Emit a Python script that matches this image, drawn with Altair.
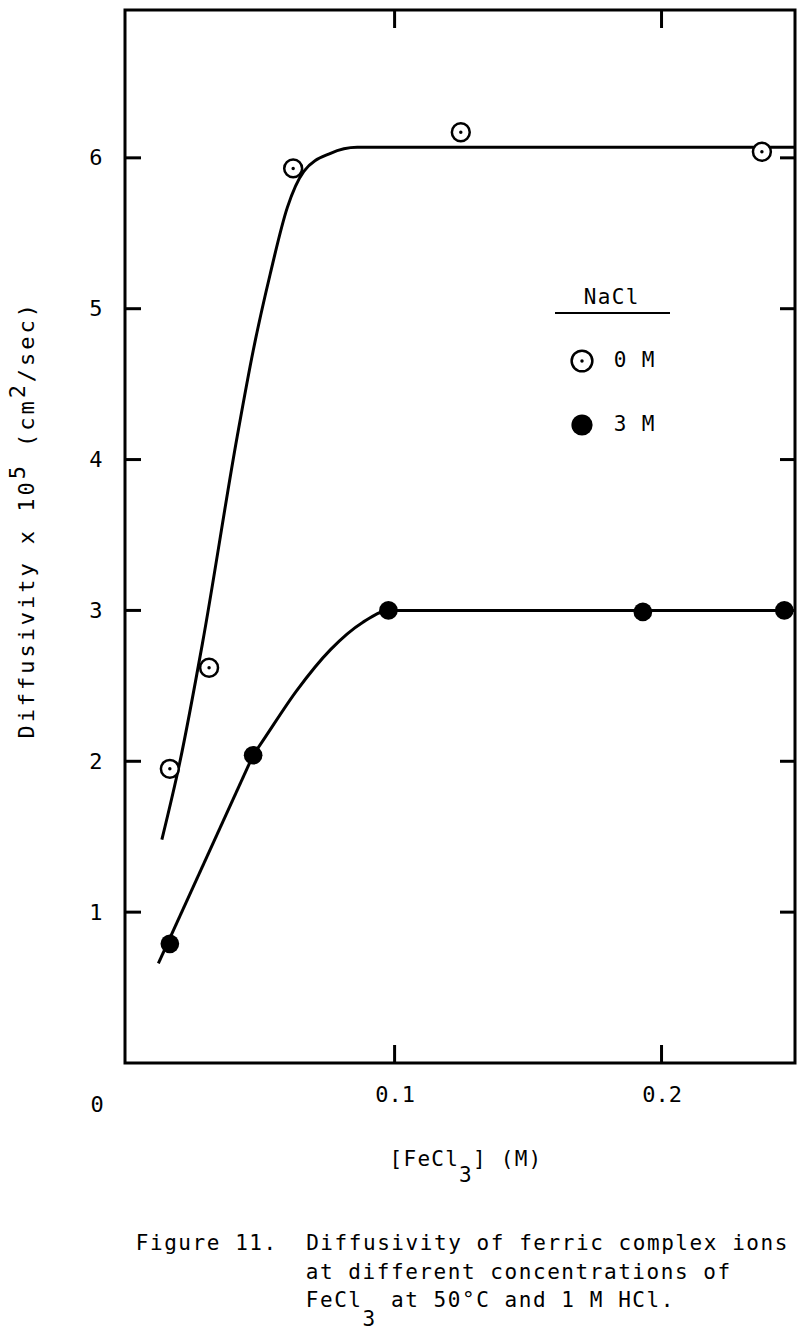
import altair as alt
import pandas as pd

FONT = "DejaVu Sans Mono"

# ---------------- data ----------------
# measured points, 0 M NaCl (open dotted circles)
x_open = [0.0158, 0.0305, 0.062, 0.1248, 0.2376]
y_open = [1.95, 2.62, 5.93, 6.17, 6.04]
# measured points, 3 M NaCl (filled circles)
x_fill = [0.0158, 0.047, 0.0977, 0.193, 0.246]
y_fill = [0.79, 2.04, 3.00, 2.99, 3.00]
# hand-drawn curve, 0 M
curve0_x = [0.0128, 0.0195, 0.028, 0.041, 0.047, 0.0534, 0.0598, 0.066, 0.076, 0.086, 0.25]
curve0_y = [1.48, 1.99, 2.78, 4.15, 4.72, 5.23, 5.67, 5.91, 6.03, 6.07, 6.07]
# hand-drawn curve, 3 M: straight lower part, then smooth bend
curve3_lin_x = [0.0115, 0.047]
curve3_lin_y = [0.66, 2.04]
curve3_x = [0.047, 0.0508, 0.0634, 0.076, 0.088, 0.098, 0.25]
curve3_y = [2.04, 2.14, 2.47, 2.74, 2.92, 3.00, 3.00]
# axes
x_ticks = [0.1, 0.2]
y_ticks = [1, 2, 3, 4, 5, 6]
x_domain = [-0.001, 0.25]
y_domain = [0, 6.98]

# texts: pieces of (string, baseline shift in px)
legend_title = [("NaCl", 0)]
legend_labels = [[("0 M", 0)], [("3 M", 0)]]
x_title = [("[FeCl", 0), ("3", 16), ("] (M)", 0)]
y_title = [("Diffusivity x 10", 0), ("5", 9), (" (cm", 0), ("2", 9), ("/sec)", 0)]
caption = [
    [("Figure 11.  Diffusivity of ferric complex ions", 0)],
    [("at different concentrations of", 0)],
    [("FeCl", 0), ("3", 19), (" at 50\u00b0C and 1 M HCl.", 0)],
]

# ---------------- layout ----------------
W, H = 670, 1053          # plot area
OX, OY = 125, 10          # plot origin on the page

xscale = alt.Scale(domain=x_domain, nice=False, zero=False)
yscale = alt.Scale(domain=y_domain, nice=False, zero=False)
xaxis = alt.Axis(values=x_ticks, format=".1f", ticks=False, tickSize=0, domain=False,
                 grid=False, labelFont=FONT, labelFontSize=22, labelColor="black",
                 labelPadding=21, title=None)
yaxis = alt.Axis(values=y_ticks, format="d", ticks=False, tickSize=0, domain=False,
                 grid=False, labelFont=FONT, labelFontSize=22, labelColor="black",
                 labelPadding=23, title=None)
XD = alt.X("x:Q", scale=xscale, axis=xaxis)
YD = alt.Y("y:Q", scale=yscale, axis=yaxis)

df_open = pd.DataFrame({"x": x_open, "y": y_open})
df_fill = pd.DataFrame({"x": x_fill, "y": y_fill})
df_smooth = pd.concat([
    pd.DataFrame({"x": curve0_x, "y": curve0_y, "s": "0 M"}),
    pd.DataFrame({"x": curve3_x, "y": curve3_y, "s": "3 M"}),
])
df_lin = pd.DataFrame({"x": curve3_lin_x, "y": curve3_lin_y, "s": "3 M"})

curves = alt.Chart(df_smooth).mark_line(
    interpolate="monotone", color="black", strokeWidth=3
).encode(x=XD, y=YD, detail="s:N")
lines_lin = alt.Chart(df_lin).mark_line(color="black", strokeWidth=3).encode(
    x=XD, y=YD, detail="s:N")

ytick_l = alt.Chart(pd.DataFrame({"y": y_ticks})).mark_rule(color="black", strokeWidth=3).encode(
    y=YD, x=alt.value(0), x2=alt.value(16))
ytick_r = alt.Chart(pd.DataFrame({"y": y_ticks})).mark_rule(color="black", strokeWidth=3).encode(
    y=YD, x=alt.value(W - 15), x2=alt.value(W))
xtick_b = alt.Chart(pd.DataFrame({"x": x_ticks})).mark_rule(color="black", strokeWidth=3).encode(
    x=XD, y=alt.value(H - 18), y2=alt.value(H))
xtick_t = alt.Chart(pd.DataFrame({"x": x_ticks})).mark_rule(color="black", strokeWidth=3).encode(
    x=XD, y=alt.value(0), y2=alt.value(18))

open_pts = alt.Chart(df_open).mark_point(
    shape="circle", size=320, fill="white", stroke="black", strokeWidth=2.5,
    opacity=1, fillOpacity=1
).encode(x=XD, y=YD)
open_dots = alt.Chart(df_open).mark_point(
    shape="circle", size=12, filled=True, color="black", opacity=1
).encode(x=XD, y=YD)
fill_pts = alt.Chart(df_fill).mark_circle(size=350, color="black", opacity=1).encode(x=XD, y=YD)

one = pd.DataFrame({"a": [0]})

legend_marks = [
    alt.Chart(one).mark_rule(color="black", strokeWidth=2).encode(
        x=alt.value(555 - OX), x2=alt.value(670 - OX), y=alt.value(313 - OY)),
    alt.Chart(one).mark_point(
        shape="circle", size=430, fill="white", stroke="black", strokeWidth=2.5,
        opacity=1, fillOpacity=1).encode(x=alt.value(582 - OX), y=alt.value(361 - OY)),
    alt.Chart(one).mark_point(
        shape="circle", size=12, filled=True, color="black", opacity=1).encode(
        x=alt.value(582 - OX), y=alt.value(361 - OY)),
    alt.Chart(one).mark_circle(size=450, color="black", opacity=1).encode(
        x=alt.value(582 - OX), y=alt.value(425 - OY)),
    alt.Chart(one).mark_text(text="0", font=FONT, fontSize=22, align="center",
                             baseline="middle", color="black").encode(
        x=alt.value(97 - OX), y=alt.value(1105 - OY)),
]

main = alt.layer(curves, lines_lin, ytick_l, ytick_r, xtick_b, xtick_t,
                 open_pts, open_dots, fill_pts, *legend_marks)


# ---- typewriter-style text: one glyph per fixed-pitch cell ----
def horiz(pieces, x0, y0, sp):
    rows, i = [], 0
    for s, shift in pieces:
        for ch in s:
            if ch != " ":
                rows.append({"ch": ch, "px": x0 + (i + 0.5) * sp - OX, "py": y0 + shift - OY})
            i += 1
    return rows


def vert(pieces, x0, y0, sp):
    rows, i = [], 0
    for s, shift in pieces:
        for ch in s:
            if ch != " ":
                rows.append({"ch": ch, "px": x0 - shift - OX, "py": y0 - (i + 0.5) * sp - OY})
            i += 1
    return rows


h_rows = []
h_rows += horiz(legend_title, 583, 298, 14)
h_rows += horiz(legend_labels[0], 613, 361, 14)
h_rows += horiz(legend_labels[1], 613, 425, 14)
h_rows += horiz(x_title, 389, 1160, 13.9)
h_rows += horiz(caption[0], 135, 1244, 14.2)
h_rows += horiz(caption[1], 305, 1273, 14.2)
h_rows += horiz(caption[2], 305, 1301, 14.2)
v_rows = vert(y_title, 27, 740, 16.2)

text_h = alt.Chart(pd.DataFrame(h_rows)).mark_text(
    font=FONT, fontSize=21, align="center", baseline="middle", color="black"
).encode(x=alt.X("px:Q", scale=None, axis=None), y=alt.Y("py:Q", scale=None, axis=None),
         text="ch:N")
text_v = alt.Chart(pd.DataFrame(v_rows)).mark_text(
    font=FONT, fontSize=22, align="center", baseline="middle", color="black", angle=270
).encode(x=alt.X("px:Q", scale=None, axis=None), y=alt.Y("py:Q", scale=None, axis=None),
         text="ch:N")

chart = alt.layer(main, text_h, text_v).resolve_scale(
    x="independent", y="independent"
).properties(
    width=W, height=H,
    autosize=alt.AutoSizeParams(type="none"),
    padding={"left": OX, "top": OY, "right": 800 - OX - W, "bottom": 1333 - OY - H},
    background="white",
).configure_view(stroke="black", strokeWidth=3)

chart.save("out.html", embed_options={"renderer": "svg", "actions": False})
